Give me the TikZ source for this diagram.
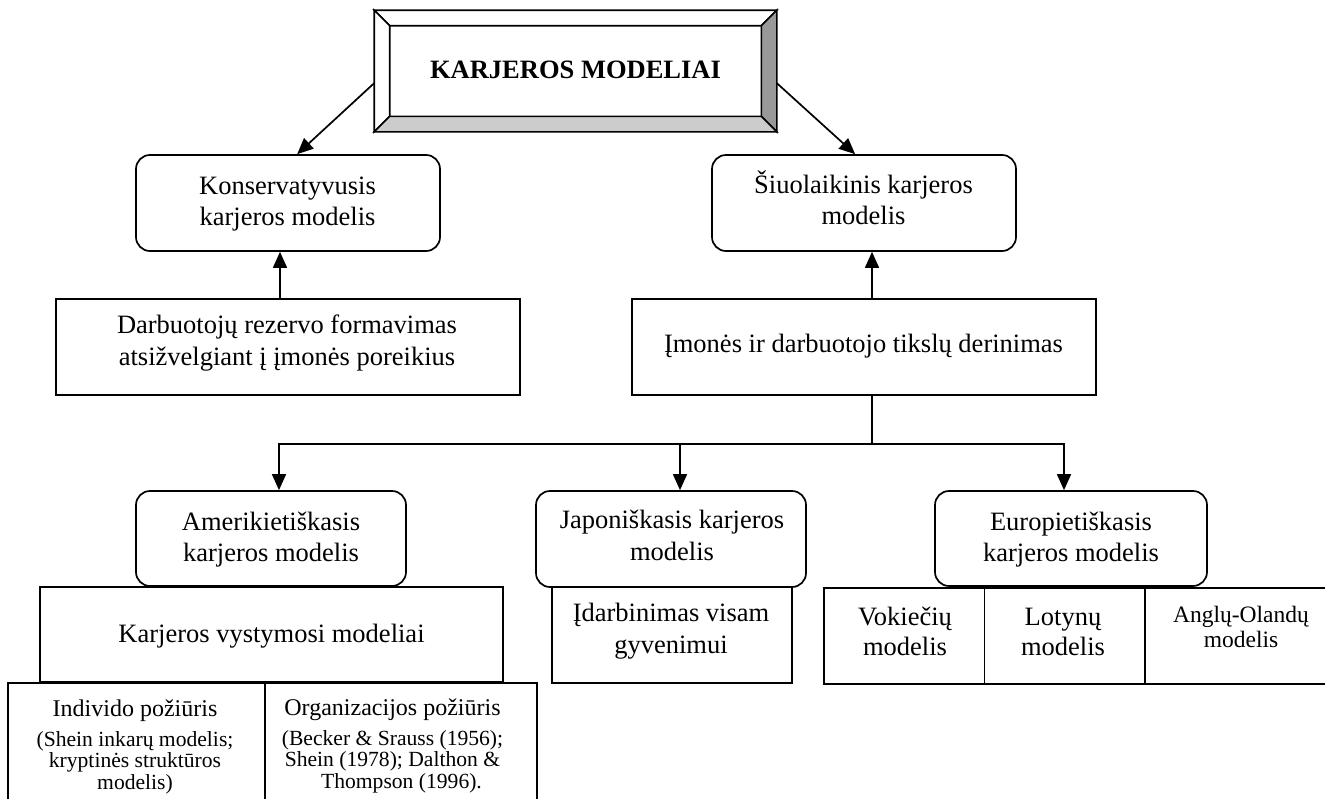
\documentclass[tikz,border=0pt]{standalone}
\usepackage{fontspec}
\setmainfont{Liberation Serif}
\usetikzlibrary{arrows.meta,calc}
\newcommand\setfs[2]{\fontsize{#1}{#2}\selectfont}
\definecolor{bevdark}{HTML}{999999}
\definecolor{bevlight}{HTML}{CCCCCC}
\begin{document}
\begin{tikzpicture}[x=1pt,y=-1pt,line width=1.7pt,
  sq/.style={draw,rectangle,inner sep=0pt},
  rnd/.style={sq,rounded corners=14pt},
  lbl/.style={inner sep=0pt,align=center,anchor=base,font=\setfs{26.5}{31}},
  small/.style={lbl,font=\setfs{21.6}{21.5}},
  arr/.style={-{Triangle[length=16pt,width=14pt]}},
]
\useasboundingbox (0,0) rectangle (1325,798);
\clip (0,0) rectangle (1325,798);

% title with bevelled frame
\node[sq,minimum width=401pt,minimum height=120pt] (title) at (575.5,71) {};
\coordinate (ti1) at ($(title.north west)+(15.5,15.5)$);
\coordinate (ti2) at ($(title.north east)+(-15.5,15.5)$);
\coordinate (ti3) at ($(title.south east)+(-15.5,-15.5)$);
\coordinate (ti4) at ($(title.south west)+(15.5,-15.5)$);
\draw[fill=white] (title.north west) -- (title.north east) -- (ti2) -- (ti1) -- cycle;
\draw[fill=white] (title.north west) -- (ti1) -- (ti4) -- (title.south west) -- cycle;
\draw[fill=bevdark] (title.north east) -- (title.south east) -- (ti3) -- (ti2) -- cycle;
\draw[fill=bevlight] (title.south west) -- (title.south east) -- (ti3) -- (ti4) -- cycle;
\node[lbl,font=\bfseries\setfs{26.5}{31}] (title-t) at (575.5,78.3) {KARJEROS MODELIAI};

% second level
\node[rnd,minimum width=304pt,minimum height=96pt] (kons) at (288,203) {};
\node[lbl] (kons-t) at (287.5,225) {Konservatyvusis\\karjeros modelis};
\node[rnd,minimum width=304pt,minimum height=96pt] (siuo) at (864,203) {};
\node[lbl] (siuo-t) at (863.5,224) {Šiuolaikinis karjeros\\modelis};

\node[sq,minimum width=464pt,minimum height=96pt] (darb) at (288,347) {};
\node[lbl,font=\setfs{26.5}{32}] (darb-t) at (287,365) {Darbuotojų rezervo formavimas\\atsižvelgiant į įmonės poreikius};
\node[sq,minimum width=464pt,minimum height=96pt] (imon) at (864,347) {};
\node[lbl] (imon-t) at (863.5,352) {Įmonės ir darbuotojo tikslų derinimas};

% third level
\node[rnd,minimum width=270pt,minimum height=95pt] (amer) at (271,538.5) {};
\node[lbl] (amer-t) at (271,561) {Amerikietiškasis\\karjeros modelis};
\node[rnd,minimum width=270pt,minimum height=96pt] (japo) at (671,539) {};
\node[lbl,font=\setfs{26.5}{32}] (japo-t) at (672,560) {Japoniškasis karjeros\\modelis};
\node[rnd,minimum width=272pt,minimum height=95pt] (euro) at (1071,538.5) {};
\node[lbl] (euro-t) at (1071,561) {Europietiškasis\\karjeros modelis};

\node[sq,minimum width=463pt,minimum height=95pt] (kvm) at (271.5,634.5) {};
\node[lbl] (kvm-t) at (271.5,642) {Karjeros vystymosi modeliai};
\node[sq,minimum width=240pt,minimum height=96pt] (idarb) at (672,635) {};
\node[lbl,font=\setfs{26.5}{31.5}] (idarb-t) at (671,653) {Įdarbinimas visam\\gyvenimui};

\node[sq,minimum width=160.5pt,minimum height=96pt,anchor=north west] (vok) at (823,587) {};
\node[sq,minimum width=160.5pt,minimum height=96pt,anchor=north west] (lot) at (983.5,587) {};
\node[sq,minimum width=200pt,minimum height=96pt,anchor=north west] (ang) at (1144,587) {};
\node[lbl,font=\setfs{26.5}{30}] (vok-t) at (905,655) {Vokiečių\\modelis};
\node[lbl,font=\setfs{26.5}{30}] (lot-t) at (1063,655) {Lotynų\\modelis};
\node[lbl,font=\setfs{23.5}{25}] (ang-t) at (1241,647) {Anglų-Olandų\\modelis};

% approaches
\node[sq,minimum width=257pt,minimum height=150pt,anchor=north west] (indiv) at (7,682) {};
\node[sq,minimum width=272pt,minimum height=150pt,anchor=north west] (org) at (264,682) {};
\node[small] (indiv-t) at (135,789) {{\setfs{24}{24}Individo požiūris}\\[8pt](Shein inkarų modelis;\\kryptinės struktūros\\modelis)};
\node[small] (org-t) at (392.5,788) {{\setfs{24}{24}Organizacijos požiūris}\\[8pt](Becker \& Srauss (1956);\\Shein (1978); Dalthon \&\\\hspace*{18pt}Thompson (1996).};

% connectors
\draw[arr] ($(title.north west)!0.6!(title.south west)$) -- ($(kons.north west)!0.53!(kons.north east)$);
\draw[arr] ($(title.north east)!0.6!(title.south east)$) -- ($(siuo.north west)!0.471!(siuo.north east)$);
\draw[arr] ($(darb.north)+(-8,0)$) -- ($(kons.south)+(-8,0)$);
\draw[arr] ($(imon.north)+(8,0)$) -- ($(siuo.south)+(8,0)$);
\coordinate (bus) at ($(imon.south)+(8,48)$);
\draw ($(imon.south)+(8,0)$) -- (bus);
\draw[arr] (bus) -| ($(amer.north)+(8,0)$);
\draw[arr] (bus) -| ($(euro.north)+(-7,0)$);
\coordinate (jn) at ($(japo.north)+(9,0)$);
\draw[arr] (jn |- bus) -- (jn);
\end{tikzpicture}
\end{document}
